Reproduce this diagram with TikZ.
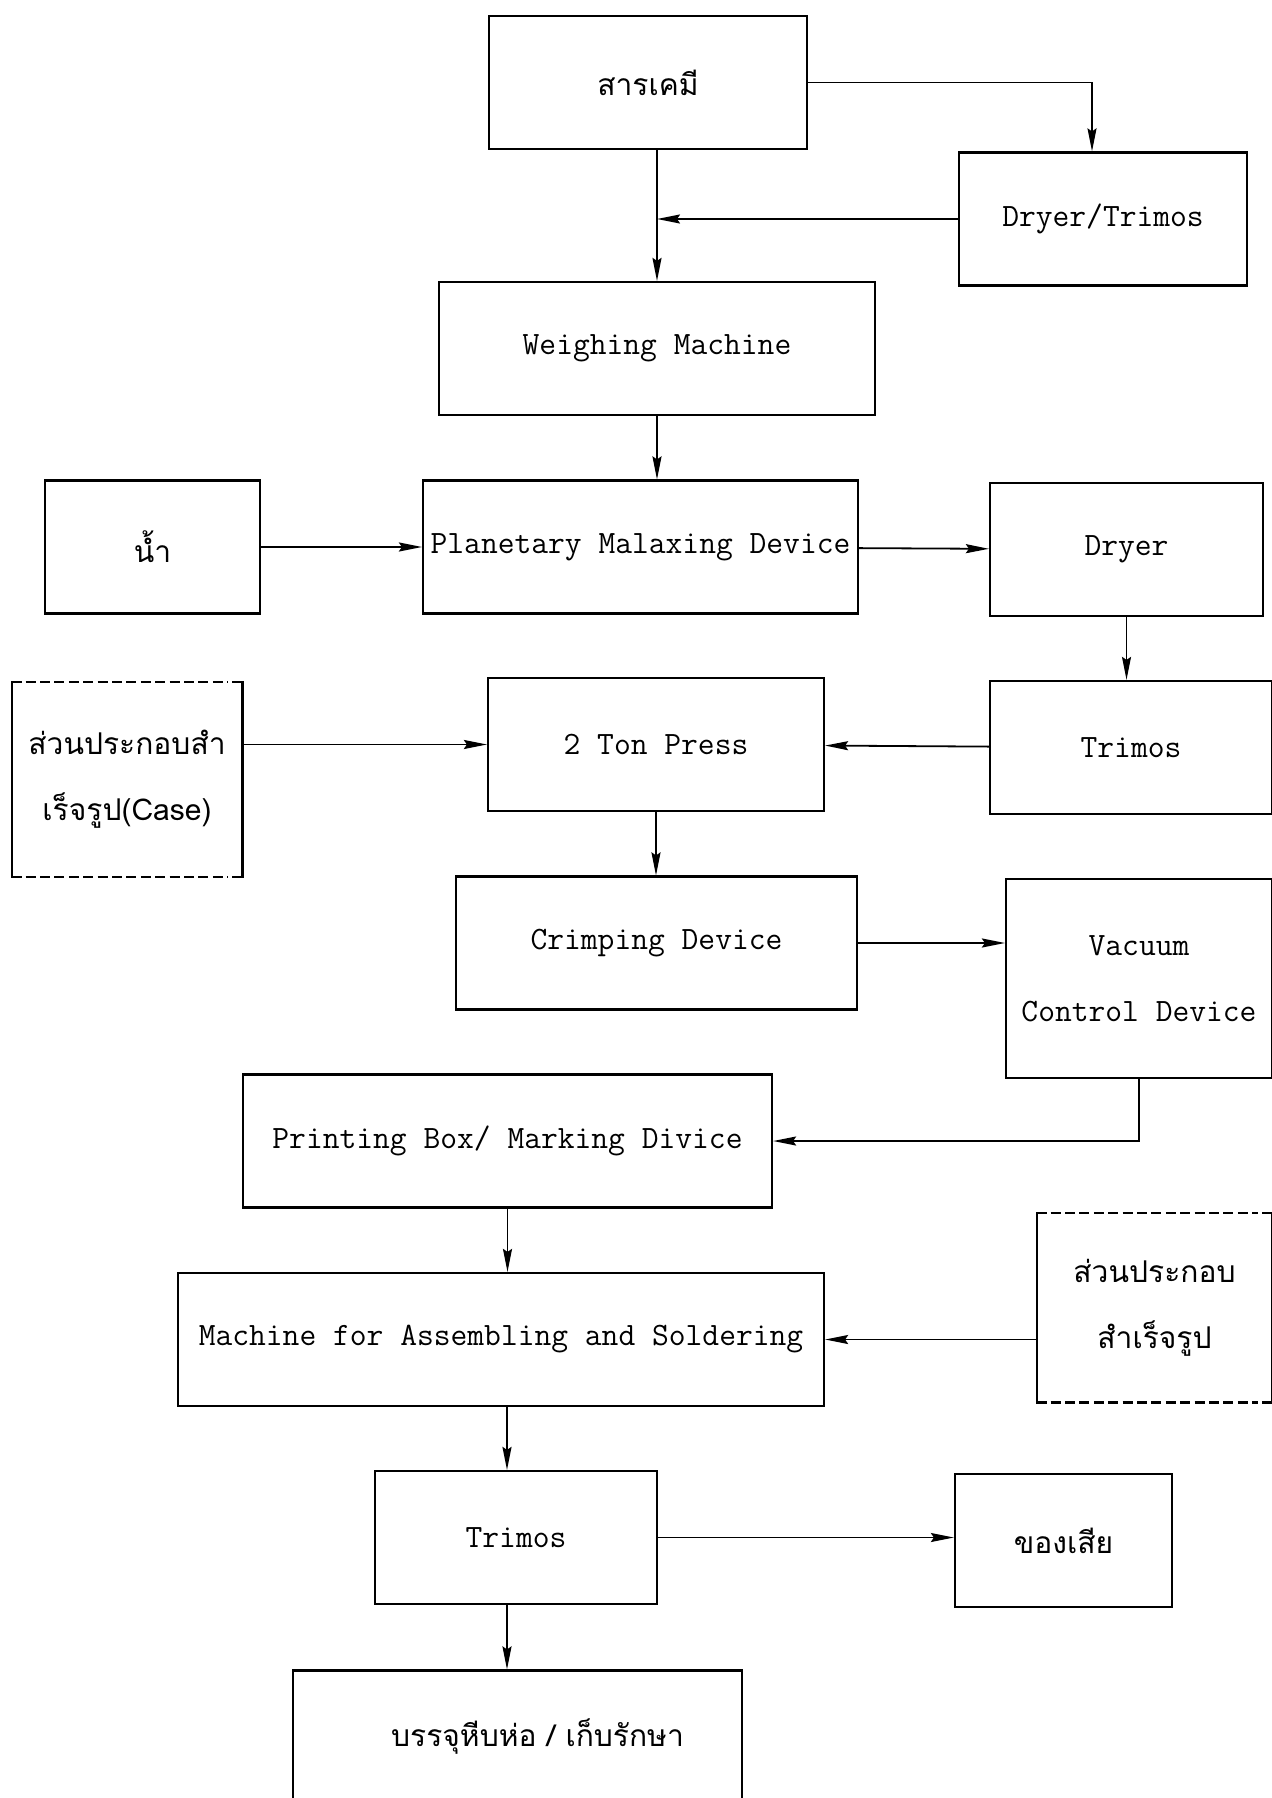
\documentclass[tikz,border=0pt]{standalone}
\usepackage{fontspec}
\newfontfamily\thaifont[Script=Thai]{Loma}
\usetikzlibrary{arrows.meta,positioning}

\begin{document}
\begin{tikzpicture}[x=0.5pt, y=-0.5pt,
  every node/.style={font=\fontsize{16.3}{33}\selectfont\ttfamily\addfontfeatures{FakeBold=0.3}},
  box/.style={draw, line width=1.1pt, minimum width=#1, minimum height=66.5pt,
              align=center, inner sep=0pt},
  box/.default=150pt,
  tallbox/.style={box=#1, minimum height=99.5pt},
  partbox/.style={minimum width=#1, minimum height=97pt, align=center, inner sep=0pt},
  thai/.style={font=\fontsize{15}{33}\selectfont\thaifont},
  frame/.style={line width=1.1pt},
  dashframe/.style={line width=1.1pt, dash pattern=on 5pt off 2.2pt},
  arr/.style={-{Stealth[length=11.5pt,width=4.5pt,inset=1.5pt]}, line width=0.9pt}
]
\useasboundingbox (0,0) rectangle (1272,1798);
\clip (0,0) rectangle (1272,1798);

% main line
\node[box=159pt, thai]   (chem)   at (648,82.5)    {สารเคมี};
\node[box=144pt]         (drytri) at (1103,219)    {Dryer/Trimos};
\node[box=218pt]         (weigh)  at (657,348.5)   {Weighing Machine};
\node[box=107.5pt, thai] (water)  at (152.5,547)   {น้ำ};
\node[box=217.5pt]       (plan)   at (640.5,547)   {Planetary Malaxing Device};
\node[box=136.5pt]       (dryer)  at (1126.5,549.5){Dryer};
\node[partbox=115pt, thai] (case) at (127,779.5)   {ส่วนประกอบสำ\\เร็จรูป(Case)};
\node[box=168pt]         (press)  at (656,744.5)   {2 Ton Press};
\node[box=141pt]         (trimA)  at (1131,747.5)  {Trimos};
\node[box=200.5pt]       (crimp)  at (656.5,943)   {Crimping Device};
\node[tallbox=133pt]     (vac)    at (1139,978.5)  {Vacuum\\Control Device};
\node[box=264.5pt]       (print)  at (507.5,1141)  {Printing Box/ Marking Divice};
\node[box=323pt]         (mach)   at (501,1339.5)  {Machine for Assembling and Soldering};
\node[partbox=117.5pt, thai, minimum height=94.5pt] (parts) at (1154.5,1307.5) {ส่วนประกอบ\\สำเร็จรูป};
\node[box=141pt]         (trimB)  at (516,1537.5)  {Trimos};
\node[box=108.5pt, thai] (waste)  at (1063.5,1540.5) {ของเสีย};
\node[box=224.5pt, thai] (pack)   at (517.5,1737)  {\hspace*{20pt}บรรจุหีบห่อ / เก็บรักษา};

% bought-in parts: solid sides, dashed top and bottom
\foreach \n in {case,parts}{
  \draw[frame] ([xshift=5pt]\n.north west) -- (\n.north west) -- (\n.south west) -- ([xshift=5pt]\n.south west);
  \draw[frame] ([xshift=-5pt]\n.north east) -- (\n.north east) -- (\n.south east) -- ([xshift=-5pt]\n.south east);
  \draw[dashframe] ([xshift=7pt]\n.north west) -- ([xshift=-7pt]\n.north east);
  \draw[dashframe] ([xshift=7pt]\n.south west) -- ([xshift=-7pt]\n.south east);
}

\draw[arr] (chem.east) -| ([xshift=-5.5pt]drytri.north);
\draw[arr] (weigh.north |- chem.south) -- (weigh.north);
\draw[arr] (drytri.west) -- (drytri.west -| weigh.north);
\draw[arr] (weigh.south) -- (weigh.south |- plan.north);
\draw[arr] (water) -- (plan);
\draw[arr] (plan) -- (dryer);
\draw[arr] (dryer.south) -- (dryer.south |- trimA.north);
\draw[arr] (case.east |- press.west) -- (press.west);
\draw[arr] (trimA) -- (press);
\draw[arr] (press.south) -- (press.south |- crimp.north);
\draw[arr] (crimp) -- (crimp -| vac.west);
\draw[arr] (vac.south) |- (print.east);
\draw[arr] (print.south) -- (print.south |- mach.north);
\draw[arr] (parts.west |- mach.east) -- (mach.east);
\draw[arr] ([xshift=3pt]mach.south) -- ([xshift=3pt]mach.south |- trimB.north);
\draw[arr] (trimB.east) -- (trimB.east -| waste.west);
\draw[arr] ([xshift=-4.5pt]trimB.south) -- ([xshift=-4.5pt]trimB.south |- pack.north);
\end{tikzpicture}
\end{document}
